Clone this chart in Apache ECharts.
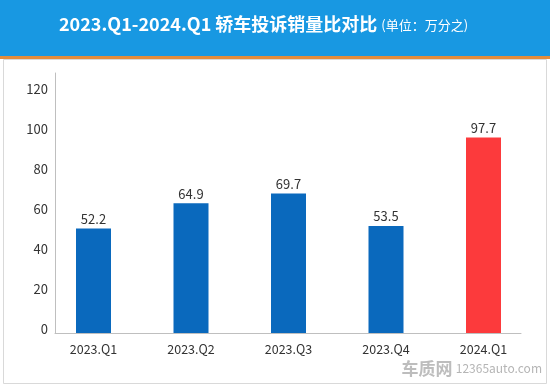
<!DOCTYPE html>
<html><head><meta charset="utf-8">
<script src="https://cdn.jsdelivr.net/npm/echarts@6/dist/echarts.min.js"></script>
<style>html,body{margin:0;padding:0;background:#fff}#c{width:550px;height:386px}</style>
</head><body><div id="c"></div>
<script>
const categories = ['2023.Q1','2023.Q2','2023.Q3','2023.Q4','2024.Q1'];
const values = [52.2, 64.9, 69.7, 53.5, 97.7];
const barColors = ['#0a69bd','#0a69bd','#0a69bd','#0a69bd','#fc3a3c'];
const yTicks = [0,20,40,60,80,100,120];
const FONT = '"Noto Sans CJK SC", "Noto Sans", sans-serif';

const chart = echarts.init(document.getElementById('c'), null, {renderer:'canvas'});
chart.setOption({
  animation:false,
  backgroundColor:'#fff',
  graphic:[
    {type:'rect', shape:{x:0,y:0,width:550,height:57}, style:{fill:'#1898e2'}, z:-10},
    {type:'rect', shape:{x:0,y:56,width:550,height:3}, style:{fill:'#e38c3c'}, z:-9},
    {type:'rect', shape:{x:3.5,y:59.5,width:543,height:324}, style:{fill:'none',stroke:'#d9d9d9',lineWidth:1}, z:-8},
    {type:'text', left:59, top:15, style:{
      rich:{
        a:{fontSize:18,fontWeight:'bold',fill:'#fff',fontFamily:FONT},
        b:{fontSize:13,fill:'#fff',fontFamily:FONT,padding:[3,0,0,4]}
      },
      text:'{a|2023.Q1-2024.Q1 轿车投诉销量比对比}{b|(单位：万分之)}'
    }},
    {type:'text', right:8, top:360, style:{
      rich:{
        a:{fontSize:17,fontWeight:'bold',fill:'#bdbdbd',fontFamily:FONT},
        b:{fontSize:12,fill:'#b5b5b5',fontFamily:FONT}
      },
      text:'{a|车质网} {b|12365auto.com}'
    }}
  ],
  grid:[
    {left:44.75, width:487.5, top:73, bottom:53},
    {left:55, right:29, top:73, bottom:53}
  ],
  xAxis:[
    {type:'category', gridIndex:0, data:categories,
     axisLine:{show:false}, axisTick:{show:false},
     axisLabel:{color:'#333', fontSize:12.5, margin:10, fontFamily:FONT}},
    {type:'category', gridIndex:1, data:[''],
     axisLine:{show:true, lineStyle:{color:'#bfbfbf'}}, axisTick:{show:false}, axisLabel:{show:false}}
  ],
  yAxis:[
    {type:'value', gridIndex:0, min:0, max:130, show:false, splitLine:{show:false}},
    {type:'value', gridIndex:1, min:0, max:130, interval:10,
     axisLine:{show:true, lineStyle:{color:'#bfbfbf'}}, axisTick:{show:false},
     splitLine:{show:false},
     axisLabel:{color:'#333', fontSize:13, margin:7, fontFamily:FONT, verticalAlign:'bottom', lineHeight:8,
       formatter:v => yTicks.indexOf(v) >= 0 ? String(v) : ''}}
  ],
  series:[{
    type:'bar', xAxisIndex:0, yAxisIndex:0, barWidth:35,
    data: values.map((v,i)=>({value:v, itemStyle:{color:barColors[i]}})),
    label:{show:true, position:'top', distance:3, color:'#333', fontSize:13, fontFamily:FONT}
  }]
});
</script></body></html>
